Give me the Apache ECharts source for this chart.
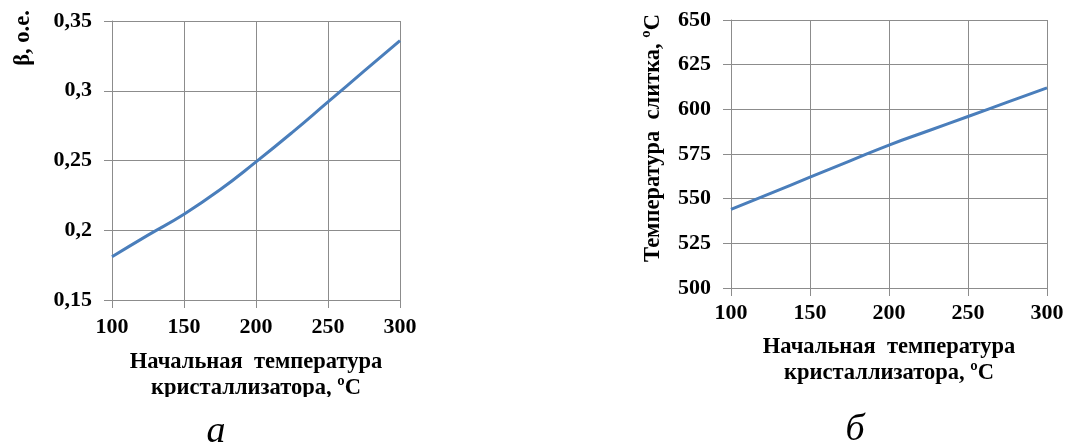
<!DOCTYPE html>
<html><head><meta charset="utf-8">
<script src="https://cdn.jsdelivr.net/npm/echarts@6/dist/echarts.min.js"></script>
<style>html,body{margin:0;padding:0;background:#fff}#c{width:1071px;height:443px}</style>
</head><body><div id="c"></div>
<script>
// Chart a
const xA = [100, 125, 150, 175, 200, 225, 250, 275, 300];
const betaA = [0.181, 0.1965, 0.2115, 0.229, 0.249, 0.270, 0.292, 0.314, 0.336];
// Chart б
const xB = [100, 125, 150, 175, 200, 225, 250, 275, 300];
const tempB = [544, 553, 562, 571, 580, 588, 596, 604, 612];
const xTicks = [100, 150, 200, 250, 300];
const yTicksA = ['0,15', '0,2', '0,25', '0,3', '0,35'];
const yTicksB = [500, 525, 550, 575, 600, 625, 650];

const FONT = '"Liberation Serif","Times New Roman",serif';
const gridCol = '#8c8c8c';
const chart = echarts.init(document.getElementById('c'), null, {renderer: 'canvas'});
function xAxis(idx, margin) {
  return {type: 'value', gridIndex: idx, min: 100, max: 300, interval: 50,
    axisLine: {lineStyle: {color: gridCol, width: 1}},
    axisTick: {show: true, length: 8, lineStyle: {color: gridCol}},
    splitLine: {show: true, lineStyle: {color: gridCol, width: 1}},
    axisLabel: {margin: margin, color: '#000', fontFamily: FONT, fontWeight: 'bold', fontSize: 22,
      formatter: v => String(v)}};
}
function yAxis(idx, min, max, interval, fmt) {
  return {type: 'value', gridIndex: idx, min: min, max: max, interval: interval,
    axisLine: {show: true, lineStyle: {color: gridCol, width: 1}},
    axisTick: {show: true, length: 8, lineStyle: {color: gridCol}},
    splitLine: {show: true, lineStyle: {color: gridCol, width: 1}},
    axisLabel: {margin: 20, color: '#000', fontFamily: FONT, fontWeight: 'bold', fontSize: 22,
      formatter: fmt}};
}
const titleStyle = {fill: '#000', fontFamily: FONT, fontWeight: 'bold', fontSize: 22.5};
chart.setOption({
  animation: false,
  grid: [
    {left: 112, top: 21, width: 288, height: 279},
    {left: 731, top: 20, width: 316, height: 268}
  ],
  xAxis: [xAxis(0, 16), xAxis(1, 14)],
  yAxis: [
    yAxis(0, 0.15, 0.35, 0.05, v => {
      const i = Math.round((v - 0.15) / 0.05); return yTicksA[i] !== undefined ? yTicksA[i] : ''; }),
    yAxis(1, 500, 650, 25, v => String(v))
  ],
  series: [
    {type: 'line', xAxisIndex: 0, yAxisIndex: 0, smooth: true, showSymbol: false,
      lineStyle: {color: '#4a7ebb', width: 3}, data: xA.map((x, i) => [x, betaA[i]])},
    {type: 'line', xAxisIndex: 1, yAxisIndex: 1, smooth: true, showSymbol: false,
      lineStyle: {color: '#4a7ebb', width: 3}, data: xB.map((x, i) => [x, tempB[i]])}
  ],
  graphic: [
    {type: 'text', x: 256, y: 362, style: Object.assign({text: 'Начальная  температура', align: 'center', verticalAlign: 'middle'}, titleStyle)},
    {type: 'text', x: 256, y: 388, style: Object.assign({text: 'кристаллизатора, ºC', align: 'center', verticalAlign: 'middle'}, titleStyle)},
    {type: 'rect', shape: {x: 100, y: 397, width: 320, height: 14}, style: {fill: '#fff'}, z: 100},
    {type: 'text', x: 889, y: 347, style: Object.assign({text: 'Начальная  температура', align: 'center', verticalAlign: 'middle'}, titleStyle)},
    {type: 'text', x: 889, y: 373, style: Object.assign({text: 'кристаллизатора, ºC', align: 'center', verticalAlign: 'middle'}, titleStyle)},
    {type: 'text', x: 23, y: 38, rotation: Math.PI / 2, style: Object.assign({text: 'β, о.е.', align: 'center', verticalAlign: 'middle'}, titleStyle)},
    {type: 'text', x: 653, y: 138, rotation: Math.PI / 2, style: Object.assign({text: 'Температура  слитка, ºC', align: 'center', verticalAlign: 'middle'}, titleStyle)},
    {type: 'text', x: 216, y: 432, style: {text: 'а', align: 'center', verticalAlign: 'middle', fill: '#000', fontFamily: FONT, fontStyle: 'italic', fontSize: 38}},
    {type: 'text', x: 855, y: 430, style: {text: 'б', align: 'center', verticalAlign: 'middle', fill: '#000', fontFamily: FONT, fontStyle: 'italic', fontSize: 38}}
  ]
});
</script></body></html>
